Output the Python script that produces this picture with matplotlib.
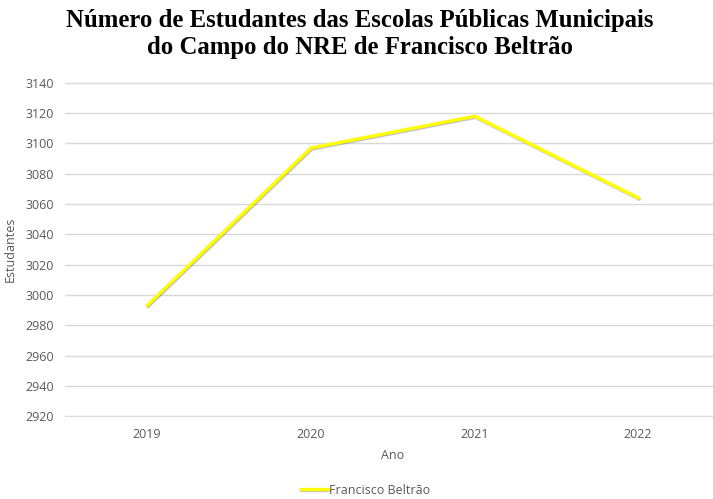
import matplotlib.pyplot as plt
import matplotlib.patheffects as pe

anos = ['2019', '2020', '2021', '2022']
estudantes = [2993, 3097, 3118, 3064]
serie = 'Francisco Beltrão'

fig = plt.figure(figsize=(7.13, 4.99), dpi=100)
ax = fig.add_axes([65 / 713, (499 - 417) / 499, (720 - 65) / 713, (417 - 82) / 499])

x = range(len(anos))
ax.plot(x, estudantes, color='#FFFF00', linewidth=2.4, label=serie,
        solid_capstyle='round',
        path_effects=[pe.SimpleLineShadow(offset=(0.8, -0.8), alpha=0.35, shadow_color='#555555'),
                      pe.Normal()])

ax.set_xlim(-0.5, len(anos) - 0.5)
ax.set_ylim(2919.4, 3140.6)
ax.set_yticks(range(2920, 3141, 20))
ax.set_xticks(list(x))
ax.set_xticklabels(anos)
ax.grid(axis='y', color='#d9d9d9', linewidth=1)
ax.set_axisbelow(True)
for s in ax.spines.values():
    s.set_visible(False)
ax.tick_params(length=0, labelsize=9, labelcolor='#595959', pad=8)
for lbl in ax.get_xticklabels() + ax.get_yticklabels():
    lbl.set_family('Open Sans')

ax.set_xlabel('Ano', fontsize=9, color='#595959', family='Open Sans', labelpad=6)
ax.set_ylabel('Estudantes', fontsize=9, color='#595959', family='Open Sans', labelpad=6)

fig.suptitle('Número de Estudantes das Escolas Públicas Municipais\ndo Campo do NRE de Francisco Beltrão',
             x=360 / 713, y=0.982, fontsize=17.8, fontweight='bold', family='Liberation Serif',
             linespacing=1.2)

leg = fig.legend(loc='center', bbox_to_anchor=(365 / 713, 1 - 490 / 499), frameon=False,
                 prop={'family': 'Open Sans', 'size': 9}, handlelength=2.2, handletextpad=0.1)
for t in leg.get_texts():
    t.set_color('#595959')

fig.savefig('out.png', dpi=100)
